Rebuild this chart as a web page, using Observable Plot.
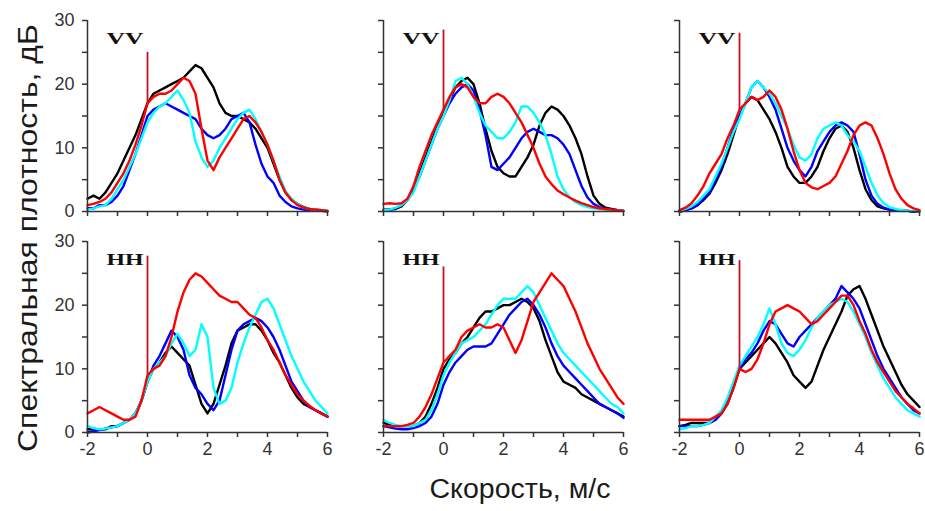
<!DOCTYPE html>
<html>
<head>
<meta charset="utf-8">
<script src="https://cdn.jsdelivr.net/npm/d3@7"></script>
<script src="https://cdn.jsdelivr.net/npm/@observablehq/plot@0.6"></script>
<style>
  body { margin: 0; background: #fff; }
  #wrap { position: relative; width: 925px; height: 511px; overflow: hidden; background: #fff; }
  #wrap > svg { position: absolute; left: 0; top: 0; }
</style>
</head>
<body>
<div id="wrap"></div>
<script>
// ---------- data ----------
const velocity = [-2,-1.8,-1.6,-1.4,-1.2,-1,-0.8,-0.6,-0.4,-0.2,0,0.2,0.4,0.6,0.8,1,1.2,1.4,1.6,1.8,2,2.2,2.4,2.6,2.8,3,3.2,3.4,3.6,3.8,4,4.2,4.4,4.6,4.8,5,5.2,5.4,5.6,5.8,6];

const seriesNames = ["black", "blue", "cyan", "red"];
const panelCols = [1, 2, 3, 1, 2, 3];
const panelPols = ["VV", "VV", "VV", "HH", "HH", "HH"];
const xTickMarks = [-2,-1,0,1,2,3,4,5,6];
const xTickLabels = [-2,0,2,4,6];
const yTickMarks = [0,5,10,15,20,25,30];
const yTickLabels = [0,10,20,30];

// VV, left panel
const VV1_black = [2,2.5,2,3,4.5,6,8,10,12,14.5,17,18.5,19,19.5,20,20.5,21,22,23,22.5,21,19.5,17,15.5,15,15,14.5,14,13,11.5,10,7.5,5,3,1.8,1.2,0.7,0.4,0.3,0.2,0.1];
const VV1_blue  = [0.5,0.5,1,1,1.5,2.5,4,6.5,9,12,15,16,16.5,17,16.5,16,15.5,15,14.5,13,12,11.5,12,13,14.5,15,15.5,14,10.5,7.5,5.5,4.5,2.5,1.5,0.8,0.5,0.3,0.2,0.1,0.1,0];
const VV1_cyan  = [0.3,0.5,0.8,1,2,3.5,5,7,9,11.5,14,15.5,16.5,17,18,19,17.5,15.5,11,8.5,7,8,10,11.5,13,14.5,15.5,16,14.5,12.5,10.5,8,5.5,3.2,2,1.2,0.6,0.4,0.3,0.2,0.1];
const VV1_red   = [1,1.2,1.5,2,3,4.5,6,8,10.5,13.5,17,18,18.5,18.5,19,20,21,20.5,18.5,13,8,6.5,8.5,10,11.5,13,14.5,15,14,12.5,10.5,8,5,3,1.8,1,0.6,0.4,0.3,0.2,0.1];

// VV, middle panel
const VV2_black = [0.3,0.3,0.4,0.8,1.8,3.5,6,8.5,11,13.5,15.5,17.5,19.5,20.5,21,20,17,13,9.5,7,6,5.5,5.5,7,8.5,10.5,13.5,15.5,16.5,16,15,13.5,11.5,9,5.5,2.5,1.2,0.6,0.4,0.2,0.1];
const VV2_blue  = [0.2,0.3,0.5,1,2,3.5,5.5,8,10.5,13,15,17,18.5,19.5,20,19,16,12,7,6.5,7.5,8.5,10,11.5,12.5,13,12.5,12,12,11.5,10.5,9,6.5,4,2.2,1.2,0.7,0.4,0.3,0.2,0.1];
const VV2_cyan  = [0.2,0.3,0.6,1,1.8,3,5.5,8,10.5,13,15,17.5,20.5,21,20,18,15.5,13.5,12.5,11.5,11.5,12.5,14,16.5,16.5,15.5,14,12,9,5.5,3.5,2.2,1.5,1,0.7,0.5,0.4,0.3,0.2,0.2,0.1];
const VV2_red   = [1.2,1.3,1.2,1.3,2,4,7,9.5,12,14,16,18,19.5,20,19.5,18,17,17,18,18.5,18,17,15.5,14,12,10,7.5,5.5,4.3,3.3,2.7,2.2,1.7,1.3,1,0.7,0.5,0.4,0.3,0.2,0.1];

// VV, right panel
const VV3_black = [0,0.2,0.5,1,1.8,2.8,4.5,6.5,9,12,15,17,18,17.5,16,14.5,12.5,10,7,5.5,4.5,4.5,5.5,7,9.5,11.5,13,13.5,12.5,10,6.5,3.5,1.8,0.8,0.5,0.3,0.2,0.1,0.1,0,0];
const VV3_blue  = [0,0.2,0.5,1,2,3,5,7,10,13,15,17,19.5,20.5,19.5,18,16,13,10,8,6.5,5.5,7,9.5,11,12.5,13.5,14,13.5,12.5,9,5,2.5,1.2,0.6,0.3,0.2,0.1,0.1,0,0];
const VV3_cyan  = [0.2,0.4,0.8,1.5,2.5,3.5,5.5,7.5,10,12.5,14.5,17,19.5,20.5,19.5,18.5,17,15,13,10.5,8.5,8,9,11.5,13,13.5,14,13.5,12,11,9.5,7,4.5,2.5,1.3,0.7,0.4,0.2,0.1,0.1,0];
const VV3_red   = [0.2,0.6,1.3,2.5,4,6,7.5,9,11.5,13.5,16,17,18,17.5,18,19,18,16,13,9.5,6.5,4.5,3.8,3.5,4,4.5,5.5,7.5,9.5,12,13.5,14,13.5,11.5,9,6,3.5,2,1,0.5,0.2];

// HH, left panel
const HH1_black = [0.5,0.5,0.5,0.5,1,1,1.5,2,3,5,8,10,11,12.5,13.5,12.5,11.5,10.5,7.5,4.5,3,4.5,7.5,10.5,14,16,16.5,17,17,16,14.5,12.5,11,9,7,5.5,4.5,4,3.5,3,2.5];
const HH1_blue  = [0,0.2,0.4,0.6,0.8,1,1.5,2,3,5,8,10.5,12,14,16,15,13,9,7,6,4.5,3.5,5,9,13,16,17,17.5,18,17.5,16.5,15,13,10.5,8,6.5,5,4,3.5,3,2.5];
const HH1_cyan  = [1,0.7,0.5,0.6,0.8,1,1.5,2,3,5,8,10,11,12,14,15.5,14,12,13,17,15,7,4.5,5,7,11,14,16.5,18.5,20.5,21,19.5,17,14.5,12,10,8,6.5,5,4,3];
const HH1_red   = [3,3.5,4,3.5,3,2.5,2,2,2.5,5,9,10,10.5,12,15,19,22,24,25,24.5,23.5,22.5,21.5,21,20.5,20.5,19.5,18.5,18,16.5,14.5,13,11,9,7.5,6,5,4.2,3.5,3,2.5];

// HH, middle panel
const HH2_black = [1.5,1.2,1,1,1,1,1.5,2.5,4.5,7,10,11.5,12.5,14,15,16.5,18,19,19,19.5,20,20,20.5,21,20.5,19.5,17.5,14.5,12,9.5,8,7.5,7,6,5.5,5,4.5,4,3.5,3,2.5];
const HH2_blue  = [1,0.8,0.6,0.5,0.5,0.7,1,1.5,2.5,4.5,7.5,9.5,11,12,13,13.5,13.5,13.5,14,15.5,17,18.5,19.5,20.5,21,20,18.5,16.5,14,12,10.5,9.5,8.5,7.5,6.5,5.5,4.5,4,3.5,3,2.3];
const HH2_cyan  = [2,1.5,1.2,1,1,1,1.5,2,3.5,6,9,11,12.5,14,14.5,15,16,17,18.5,20,21,21,21,22,23,22,20,18,16,14,12.5,11.5,10.5,9.5,8.5,7.5,6.5,5.5,4.5,4,3];
const HH2_red   = [1,1,1,1,1.2,1.5,2.5,4,6,8.5,11,12,13,15,16,16.5,17,16.5,16.5,17,16.5,14.5,12.5,14.5,17.5,20.5,22,23.5,25,24,23,21,19,16.5,14,12,10,8.5,7,5.5,4.5];

// HH, right panel
const HH3_black = [1,1.2,1.5,1.5,1.5,1.5,2,3,4.5,7,10,11,12,13,14,15,14,12.5,11,9,8,7,8,10.5,13,15,17,19,21.5,22.5,23,21,18.5,16,13.5,11.5,9.5,7.5,6,5,4];
const HH3_blue  = [1,1,1,1,1.2,1.5,2,3,5,7.5,10,11.5,12.5,14,16,17.5,17,15.5,14,13.5,15,16,17,18,19,20,21,23,22,21,19.5,17,14.5,12,10,8.5,7,5.5,4.5,3.5,3];
const HH3_cyan  = [0.5,0.7,1,1,1.2,1.5,2.5,3.5,5.5,8,10.5,12,13.5,15,17,19.5,17,14,12.5,12,13,14.5,16.5,18,19,20,20.5,21,20.5,19,17,15,12.5,10.5,8.5,7,5.5,4.5,3.5,3,2.5];
const HH3_red   = [2,2,2,2,2,2,2.5,3,4.5,7,10,9.5,10,11.5,14,17,19,19.5,20,19.5,19,18,17,17.5,18.5,19.5,20.5,21.5,21.5,20,17.5,15.5,13,11,9.5,8,6.5,5.5,4.5,3.8,3];

// narrow red peak at zero velocity, one per panel
const spikeVelocity = 0;
const spikePeaks = [25, 28.5, 28, 27.7, 26, 27];

const panelSeries = [
  [VV1_black, VV1_blue, VV1_cyan, VV1_red],
  [VV2_black, VV2_blue, VV2_cyan, VV2_red],
  [VV3_black, VV3_blue, VV3_cyan, VV3_red],
  [HH1_black, HH1_blue, HH1_cyan, HH1_red],
  [HH2_black, HH2_blue, HH2_cyan, HH2_red],
  [HH3_black, HH3_blue, HH3_cyan, HH3_red]
];

// ---------- tables for Plot ----------
const rows = [];
panelSeries.forEach((list, i) => {
  list.forEach((vals, j) => {
    vals.forEach((p, k) => rows.push({col: panelCols[i], pol: panelPols[i], series: seriesNames[j], v: velocity[k], p}));
  });
});
const zeroIndex = velocity.indexOf(spikeVelocity);
const spikes = spikePeaks.map((peak, i) => ({
  col: panelCols[i], pol: panelPols[i], v: spikeVelocity,
  base: panelSeries[i][3][zeroIndex], peak
}));
const polLabels = panelPols.map((pol, i) => ({col: panelCols[i], pol, label: pol}));

const seriesColors = ["#111111", "#1515d5", "#22e2e2", "#e8141e"];
const axisColor = "#333";

const chart = Plot.plot({
  width: 925,
  height: 470,
  marginLeft: 86,
  marginRight: 5,
  marginTop: 20,
  marginBottom: 37,
  style: {fontFamily: "'Liberation Sans', Arial, sans-serif", fontSize: "18px", color: "#333", background: "transparent", overflow: "visible"},
  x: {domain: [-2, 6]},
  y: {domain: [0, 30]},
  fx: {domain: [1, 2, 3], paddingInner: 0.19, paddingOuter: 0, axis: null},
  fy: {domain: ["VV", "HH"], paddingInner: 0.135, paddingOuter: 0, axis: null},
  color: {domain: seriesNames, range: seriesColors},
  marks: [
    Plot.line(rows, {fx: "col", fy: "pol", x: "v", y: "p", z: "series", stroke: "series", strokeWidth: 2.4, strokeLinejoin: "round"}),
    Plot.ruleX(spikes, {fx: "col", fy: "pol", x: "v", y1: "base", y2: "peak", stroke: "#c8101c", strokeWidth: 1.8}),
    Plot.ruleY([0], {stroke: axisColor, strokeWidth: 1.5}),
    Plot.ruleX([-2], {stroke: axisColor, strokeWidth: 1.5}),
    Plot.axisX({ticks: xTickMarks, tickSize: 5, tickFormat: () => "", facetAnchor: null, label: null, stroke: axisColor, strokeWidth: 1.5}),
    Plot.axisX({ticks: xTickLabels, tickSize: 0, tickPadding: 10, tickFormat: d => String(d), label: null, fill: "#333"}),
    Plot.axisY({ticks: yTickMarks, tickSize: 5, tickFormat: () => "", facetAnchor: null, label: null, stroke: axisColor, strokeWidth: 1.5}),
    Plot.axisY({ticks: yTickLabels, tickSize: 0, tickPadding: 13, label: null, fill: "#333"}),
    Plot.text(polLabels, {fx: "col", fy: "pol", text: "label", frameAnchor: "top-left", dx: 19, dy: 11,
      fontFamily: "'Liberation Serif', 'Times New Roman', serif", fontWeight: "bold", fontSize: 17, fill: "#111"})
  ]
});

const wrap = document.getElementById("wrap");
wrap.appendChild(chart);

// stretch the bold polarisation labels a little, like the original lettering
d3.select(chart).selectAll("text").filter(function() { return this.textContent === "VV" || this.textContent === "HH"; })
  .attr("textLength", 37).attr("lengthAdjust", "spacingAndGlyphs");

// axis titles around the facet grid
const overlay = d3.select(wrap).append("svg")
  .attr("width", 925).attr("height", 511)
  .style("pointer-events", "none");
overlay.append("text")
  .attr("transform", "translate(37,238) rotate(-90)")
  .attr("text-anchor", "middle")
  .attr("font-family", "'Liberation Sans', Arial, sans-serif")
  .attr("font-size", 28)
  .attr("fill", "#1a1a1a")
  .attr("textLength", 428).attr("lengthAdjust", "spacingAndGlyphs")
  .text("Спектральная плотность, дБ");
overlay.append("text")
  .attr("x", 520).attr("y", 498)
  .attr("text-anchor", "middle")
  .attr("font-family", "'Liberation Sans', Arial, sans-serif")
  .attr("font-size", 27)
  .attr("fill", "#1a1a1a")
  .attr("textLength", 181).attr("lengthAdjust", "spacingAndGlyphs")
  .text("Скорость, м/с");
</script>
</body>
</html>
